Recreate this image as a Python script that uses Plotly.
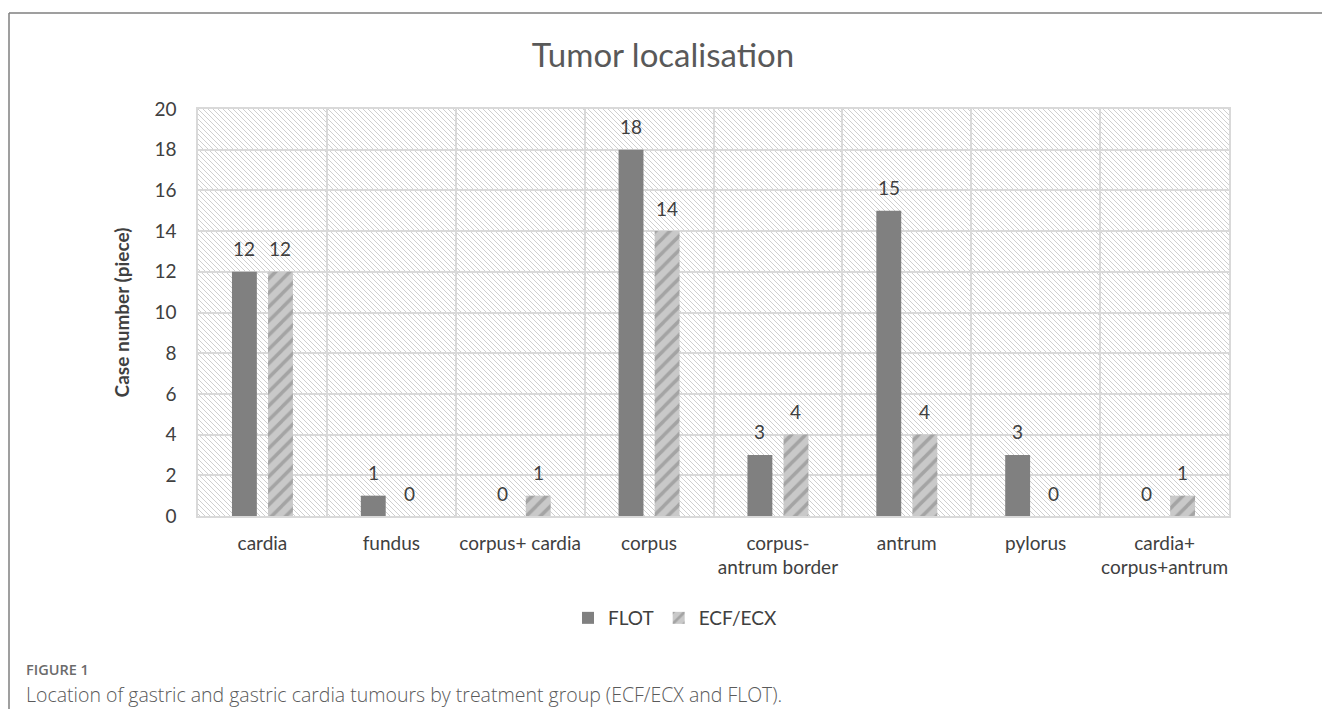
import base64
import plotly.graph_objects as go

categories = ["cardia", "fundus", "corpus+ cardia", "corpus", "corpus-<br>antrum border",
              "antrum", "pylorus", "cardia+<br>corpus+antrum"]
flot = [12, 1, 0, 18, 3, 15, 3, 0]
ecf_ecx = [12, 0, 1, 14, 4, 4, 0, 1]
y_ticks = list(range(0, 21, 2))

W, H = 1322, 709
L, R, T, B = 198, 1229, 109, 516  # plot area in pixels
pw, ph = R - L, B - T
BARGAP, GROUPGAP = 0.44, 0.31
slot_px = pw / len(categories) * (1 - BARGAP) / 2

def px_x(p):
    return (p - L) / pw

def px_y(p):
    return (B - p) / ph

svg = f'''<svg xmlns="http://www.w3.org/2000/svg" width="{pw}" height="{ph}">
<defs><pattern id="h" patternUnits="userSpaceOnUse" width="5" height="5">
<path d="M-1,-1 L6,6 M-1,4 L1,6 M4,-1 L6,1" stroke="#cfcfcf" stroke-width="1"/>
</pattern></defs>
<rect width="{pw}" height="{ph}" fill="white"/>
<rect width="{pw}" height="{ph}" fill="url(#h)"/>
</svg>'''
src = "data:image/svg+xml;base64," + base64.b64encode(svg.encode()).decode()

font = "Lato, 'Open Sans', sans-serif"
cap_font = "'Open Sans', sans-serif"

fig = go.Figure()
fig.add_trace(go.Bar(
    name="FLOT", x=categories, y=flot,
    marker=dict(color="#808080", line=dict(width=0)),
))
fig.add_trace(go.Bar(
    name="ECF/ECX", x=categories, y=ecf_ecx,
    marker=dict(color="#c9c9c9", line=dict(width=0),
                pattern=dict(shape="/", fgcolor="#808080", bgcolor="#c9c9c9",
                             size=10, solidity=0.35)),
))

annotations = []
for series, shift in ((flot, -slot_px / 2), (ecf_ecx, slot_px / 2)):
    for cat, val in zip(categories, series):
        annotations.append(dict(
            x=cat, y=val, xref="x", yref="y", text=str(val), showarrow=False,
            xanchor="center", yanchor="middle", xshift=shift, yshift=23,
            font=dict(size=19, color="#404040", family=font)))

annotations += [
    dict(text="FIGURE 1", xref="paper", yref="paper", x=px_x(25), y=px_y(680),
         xanchor="left", yanchor="bottom", showarrow=False, borderpad=0,
         font=dict(size=14.5, color="#6b6b6b", family=cap_font, weight=600)),
    dict(text="Location of gastric and gastric cardia tumours by treatment group (ECF/ECX and FLOT).",
         xref="paper", yref="paper", x=px_x(25), y=px_y(680),
         xanchor="left", yanchor="top", showarrow=False, borderpad=0,
         font=dict(size=19.5, color="#5a5a5a", family=cap_font, weight=300)),
]

fig.update_layout(
    width=W, height=H,
    margin=dict(l=L, r=W - R, t=T, b=H - B, autoexpand=False),
    paper_bgcolor="white",
    plot_bgcolor="rgba(0,0,0,0)",
    barmode="group", bargap=BARGAP, bargroupgap=GROUPGAP,
    font=dict(family=font, color="#404040"),
    title=dict(text="Tumor localisation", xref="container", x=663 / W, xanchor="center",
               yref="container", y=1 - 55 / H, yanchor="middle",
               font=dict(size=33, color="#595959", family=font)),
    showlegend=True,
    legend=dict(orientation="h", x=px_x(675), xanchor="center",
                y=px_y(618), yanchor="middle",
                font=dict(size=19, color="#404040", family=font),
                itemwidth=30, traceorder="normal"),
    images=[dict(source=src, xref="paper", yref="paper", x=0, y=1,
                 sizex=1, sizey=1, xanchor="left", yanchor="top",
                 sizing="stretch", layer="below")],
    shapes=[
        dict(type="line", xref="paper", yref="paper",
             x0=px_x(9), x1=px_x(1330), y0=px_y(13), y1=px_y(13),
             line=dict(color="#7f7f7f", width=1.5)),
        dict(type="line", xref="paper", yref="paper",
             x0=px_x(9), x1=px_x(9), y0=px_y(13), y1=px_y(712),
             line=dict(color="#7f7f7f", width=1.5)),
    ],
    annotations=annotations,
)

fig.update_xaxes(
    type="category", tickson="boundaries", showgrid=True,
    gridcolor="#d9d9d9", gridwidth=1.5,
    showline=True, linecolor="#d9d9d9", linewidth=1.5, mirror=True,
    ticks="", ticklabelstandoff=9, tickangle=0,
    tickfont=dict(size=19, color="#404040", family=font),
)
fig.update_yaxes(
    range=[0, 20], tickvals=y_ticks, showgrid=True,
    gridcolor="#d9d9d9", gridwidth=1.5, zeroline=False,
    showline=True, linecolor="#d9d9d9", linewidth=1.5, mirror=True,
    ticks="", ticklabelstandoff=16,
    tickfont=dict(size=19, color="#404040", family=font),
    title=dict(text="<b>Case number (piece)</b>", standoff=20,
               font=dict(size=19, color="#404040", family=font)),
)

fig.write_html("out.html", config={"displayModeBar": False},
               post_script="document.body.style.margin='0';document.body.style.overflow='hidden';")
